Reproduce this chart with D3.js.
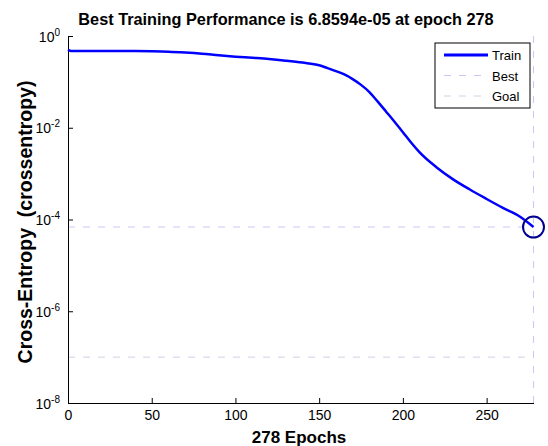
<!DOCTYPE html>
<html lang="en">
<head>
    <meta charset="UTF-8">
    <title>Best Training Performance</title>
    <script src="https://d3js.org/d3.v7.min.js"></script>
    <style>
        body {
            margin: 0;
            padding: 0;
            background: #fff;
            font-family: 'Liberation Sans', Arial, sans-serif;
        }
        .axis path,
        .axis line {
            stroke: #000;
            stroke-width: 1;
        }
        .axis text {
            font-size: 14px;
            fill: #000;
            font-family: 'Liberation Sans', Arial, sans-serif;
        }
    </style>
</head>
<body>
    <svg id="chart"></svg>

    <script>
        // Data
        const epochs = [0, 2, 10, 20, 30, 40, 50, 60, 70, 80, 90, 100, 110, 120, 130, 140,
            150, 155, 160, 165, 170, 175, 180, 185, 190, 195, 200, 205, 210, 220, 230,
            240, 250, 260, 270, 278];
        const trainPerf = [0.50, 0.47, 0.47, 0.47, 0.47, 0.47, 0.465, 0.455, 0.435, 0.41,
            0.38, 0.355, 0.335, 0.315, 0.29, 0.263, 0.231, 0.20, 0.172, 0.145, 0.115,
            0.086, 0.060, 0.037, 0.0224, 0.0135, 0.0080, 0.0047, 0.0029, 0.00138,
            0.00075, 0.00045, 0.00028, 0.000177, 0.000115, 6.8594e-5];
        const bestEpoch = 278;
        const bestPerf = 6.8594e-5;
        const goalPerf = 1e-7;
        const xTicks = [0, 50, 100, 150, 200, 250];
        const yTickExps = [0, -2, -4, -6, -8];
        const legendItems = ["Train", "Best", "Goal"];

        const W = 548, H = 446;
        const svg = d3.select("#chart")
            .attr("width", W)
            .attr("height", H);

        const x = d3.scaleLinear().domain([0, 278]).range([68, 533.5]);
        const y = d3.scaleLog().domain([1e-8, 1]).range([403, 36]);

        const bestColor = "#c8c8f4";
        const goalColor = "#d0d0e6";

        // Best / goal guide lines
        svg.append("line")
            .attr("x1", x(0)).attr("x2", x(bestEpoch))
            .attr("y1", y(bestPerf)).attr("y2", y(bestPerf))
            .attr("stroke", bestColor).attr("stroke-dasharray", "7,8");
        svg.append("line")
            .attr("x1", x(bestEpoch)).attr("x2", x(bestEpoch))
            .attr("y1", y(1)).attr("y2", y(1e-8))
            .attr("stroke", bestColor).attr("stroke-dasharray", "7,8");
        svg.append("line")
            .attr("x1", x(0)).attr("x2", x(bestEpoch))
            .attr("y1", y(goalPerf)).attr("y2", y(goalPerf))
            .attr("stroke", goalColor).attr("stroke-dasharray", "7,8");

        // Axes
        svg.append("g")
            .attr("class", "axis")
            .attr("transform", `translate(0,${y(1e-8)})`)
            .call(d3.axisBottom(x).tickValues(xTicks).tickSizeInner(-5).tickSizeOuter(0).tickPadding(7));

        const yAxis = svg.append("g")
            .attr("class", "axis")
            .attr("transform", `translate(${x(0)},0)`)
            .call(d3.axisLeft(y).tickValues(yTickExps.map(e => Math.pow(10, e)))
                .tickSizeInner(-5).tickSizeOuter(0).tickFormat(""));

        yAxis.selectAll(".tick").each(function (d) {
            const t = d3.select(this).append("text")
                .attr("x", -8).attr("dy", "0.36em")
                .attr("text-anchor", "end");
            t.append("tspan").text("10");
            t.append("tspan").attr("dy", "-0.6em").attr("font-size", "10px")
                .text(Math.round(Math.log10(d)));
        });

        // Train curve
        const line = d3.line()
            .x((d, i) => x(epochs[i]))
            .y(d => y(d))
            .curve(d3.curveMonotoneX);
        svg.append("path")
            .datum(trainPerf)
            .attr("fill", "none")
            .attr("stroke", "#0000ff")
            .attr("stroke-width", 2.5)
            .attr("stroke-linejoin", "round")
            .attr("d", line);

        // Best point marker
        svg.append("circle")
            .attr("cx", x(bestEpoch)).attr("cy", y(bestPerf))
            .attr("r", 10.5)
            .attr("fill", "none")
            .attr("stroke", "#000090")
            .attr("stroke-width", 2);

        // Title and labels
        svg.append("text")
            .attr("x", 286).attr("y", 25)
            .attr("text-anchor", "middle")
            .attr("font-size", "16.3px").attr("font-weight", "bold")
            .text(`Best Training Performance is ${bestPerf.toExponential(4).replace("e-5", "e-05")} at epoch ${bestEpoch}`);

        svg.append("text")
            .attr("x", 299).attr("y", 443)
            .attr("text-anchor", "middle")
            .attr("font-size", "17px").attr("font-weight", "bold")
            .text("278 Epochs");

        svg.append("text")
            .attr("transform", "translate(32,222) rotate(-90)")
            .attr("text-anchor", "middle")
            .attr("font-size", "19.5px").attr("font-weight", "bold")
            .attr("xml:space", "preserve")
            .style("white-space", "pre")
            .text("Cross-Entropy  (crossentropy)");

        // Legend
        const legend = svg.append("g").attr("transform", "translate(435,43)");
        legend.append("rect")
            .attr("width", 95).attr("height", 65)
            .attr("fill", "#fff").attr("stroke", "#000");

        legendItems.forEach((name, i) => {
            const row = legend.append("g").attr("transform", `translate(0,${12 + i * 20.5})`);
            const ln = row.append("line")
                .attr("x1", 9).attr("x2", 53);
            if (name === "Train") {
                ln.attr("stroke", "#0000ff").attr("stroke-width", 3);
            } else {
                ln.attr("stroke", name === "Best" ? bestColor : goalColor)
                    .attr("stroke-dasharray", "7,8");
            }
            row.append("text")
                .attr("x", 57).attr("y", 5)
                .attr("font-size", "13px")
                .text(name);
        });
    </script>
</body>
</html>
